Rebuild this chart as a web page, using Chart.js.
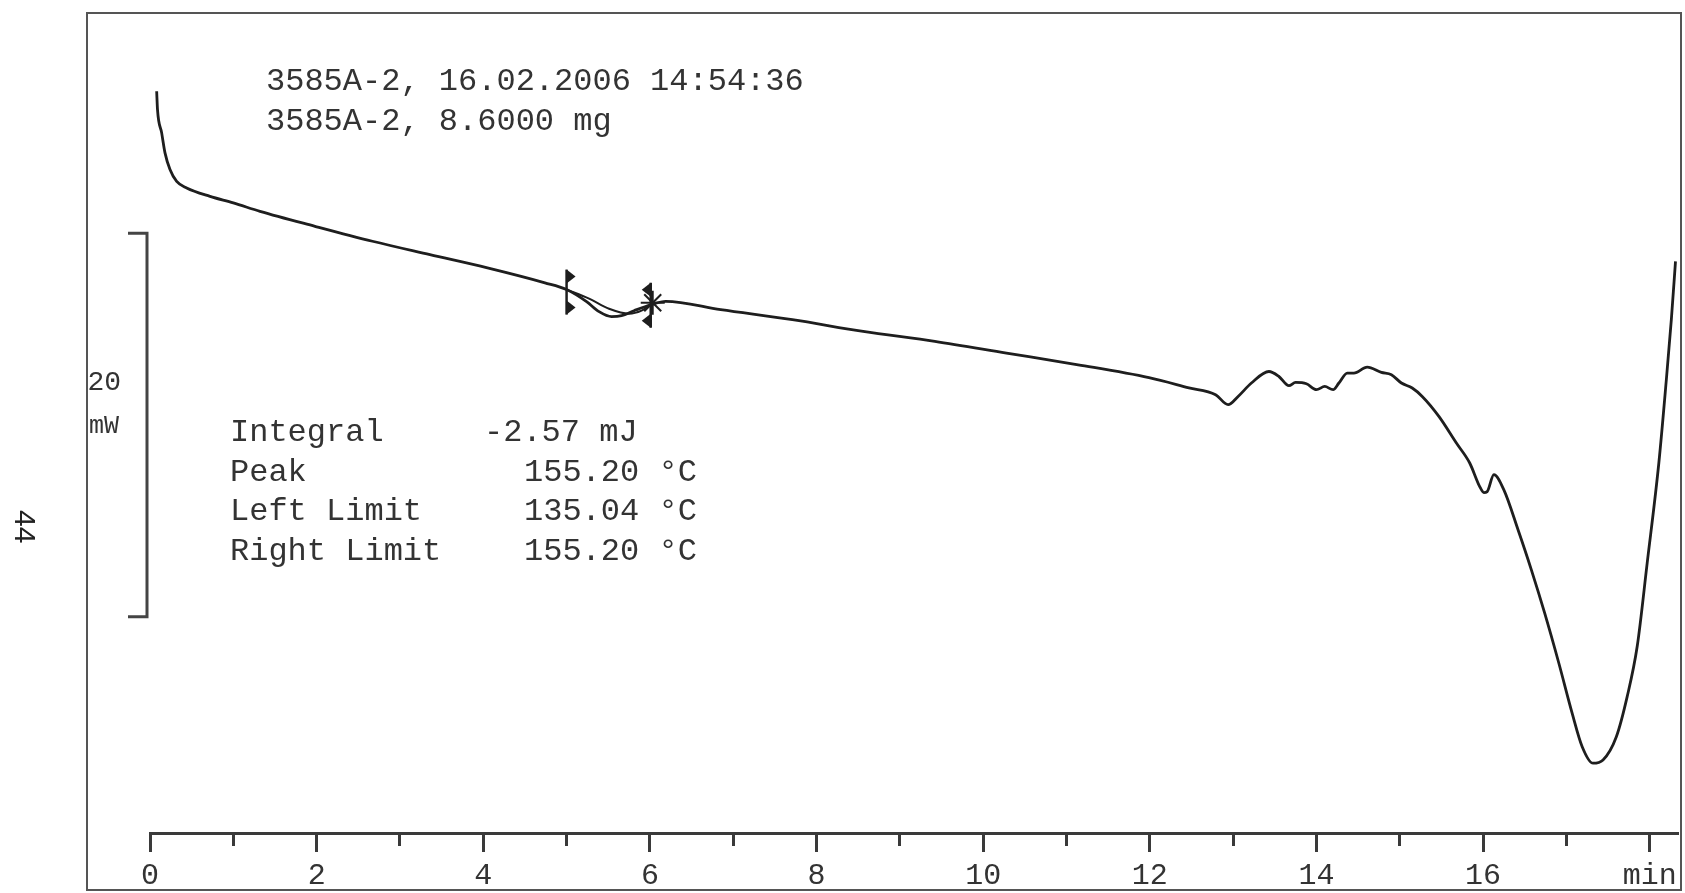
<!DOCTYPE html>
<html>
<head>
<meta charset="utf-8">
<title>DSC 3585A-2</title>
<script src="https://cdn.jsdelivr.net/npm/chart.js@4.4.1/dist/chart.umd.min.js"></script>
<style>
body { margin: 0; background: #fff; overflow: hidden; }
#wrap { position: relative; width: 1685px; height: 893px; }
#frame { position: absolute; left: 86px; top: 12px; width: 1596px; height: 879px; border: 2px solid #555; box-sizing: border-box; pointer-events: none; }
.txt { position: absolute; font-family: "Liberation Mono", "DejaVu Sans Mono", monospace; color: #333; white-space: pre; }
#head { left: 266px; top: 62px; font-size: 32px; line-height: 39.7px; }
.res { top: 413px; font-size: 32px; line-height: 39.5px; }
#unit20 { right: 1564px; top: 364px; font-size: 28px; line-height: 38px; }
#unitmw { right: 1566px; top: 411px; font-size: 25px; line-height: 32px; }
#page { left: 8px; top: 510px; font-family: "Liberation Sans", Arial, sans-serif; font-size: 30px; color: #222; transform: rotate(90deg); transform-origin: 17px 17px; }
</style>
</head>
<body>
<div id="wrap">
  <canvas id="mycanvas" width="1685" height="893"></canvas>
  <div id="frame"></div>
  <div class="txt" id="head">3585A-2, 16.02.2006 14:54:36
3585A-2, 8.6000 mg</div>
  <div class="txt res" style="left:230px">Integral
Peak
Left Limit
Right Limit</div>
  <div class="txt res" style="left:484px">-2.57 mJ</div>
  <div class="txt res" style="left:524px; top:452.5px">155.20 °C
135.04 °C
155.20 °C</div>
  <div class="txt" id="unit20">20</div>
  <div class="txt" id="unitmw">mW</div>
  <div class="txt" id="page">44</div>
</div>
<script>
// ** DSC curve, 3585A-2

// time in min, heat flow in mW (offset arbitrary)
var timeMin = [0.08, 0.09, 0.14, 0.18, 0.24, 0.32, 0.44, 0.72, 1.0, 1.32,
	1.98, 2.67, 3.36, 4.05, 4.74, 5.0, 5.24, 5.39, 5.54, 5.66,
	5.81, 6.01, 6.19, 6.85, 7.71, 8.56, 9.42, 10.28, 11.14, 11.99,
	12.47, 12.79, 12.94, 13.06, 13.22, 13.43, 13.55, 13.67, 13.75, 13.88,
	14.0, 14.1, 14.2, 14.27, 14.37, 14.45, 14.61, 14.78, 14.9, 15.02,
	15.15, 15.27, 15.47, 15.68, 15.84, 15.96, 16.01, 16.05, 16.13, 16.25,
	16.42, 16.58, 16.74, 16.91, 17.07, 17.19, 17.32, 17.44, 17.6, 17.73,
	17.85, 17.97, 18.11, 18.2, 18.26, 18.31];
var heatFlow = [38.67, 37.71, 36.5, 35.46, 34.59, 33.97, 33.63, 33.19, 32.85, 32.41,
	31.63, 30.85, 30.15, 29.46, 28.68, 28.33, 27.7, 27.18, 26.92, 26.97,
	27.23, 27.54, 27.72, 27.28, 26.76, 26.15, 25.63, 25.02, 24.41, 23.74,
	23.21, 22.85, 22.33, 22.76, 23.46, 24.06, 23.8, 23.32, 23.49, 23.42,
	23.11, 23.28, 23.11, 23.46, 23.98, 23.98, 24.29, 24.01, 23.89, 23.46,
	23.2, 22.76, 21.72, 20.33, 19.29, 18.06, 17.75, 17.8, 18.68, 17.89,
	15.81, 13.72, 11.46, 8.85, 6.24, 4.5, 3.64, 3.81, 5.02, 7.11,
	9.72, 14.07, 19.29, 23.63, 26.76, 29.8];

// integration baseline between the limits
var baseTime = [5.0, 5.27, 5.51, 5.75, 5.9, 6.01];
var baseFlow = [28.33, 27.86, 27.33, 27.07, 27.23, 27.54];

// left / right limit (135.04 / 155.20 °C)
var limitTime = [5.0, 6.01];
var limitFlow = [28.33, 27.54];

// 20 mW scale bar
var scaleBar = [11.27, 31.27];

var majorTicks = [0, 2, 4, 6, 8, 10, 12, 14, 16, 18];
var majorLabels = ['0', '2', '4', '6', '8', '10', '12', '14', '16', 'min'];

var ink = '#1e1e1e';
var axisInk = '#3a3a3a';

var limitMarks = {
	id: 'limitMarks',
	afterDatasetsDraw: function(chart) {
		var ctx = chart.ctx;
		var x = chart.scales.x, y = chart.scales.y;
		ctx.save();
		ctx.strokeStyle = ink;
		ctx.fillStyle = ink;
		ctx.lineWidth = 2.5;
		for (var i = 0; i < limitTime.length; i++) {
			var px = x.getPixelForValue(limitTime[i]);
			var py = y.getPixelForValue(limitFlow[i]);
			var d = i == 0 ? 1 : -1;
			var t1 = i == 0 ? py - 20 : py - 22;
			var b1 = i == 0 ? py + 25 : py + 23;
			ctx.beginPath();
			ctx.moveTo(px, t1);
			ctx.lineTo(px, b1);
			ctx.stroke();
			// triangles
			[[t1, t1 + 14], [b1 - 14, b1]].forEach(function(s) {
				ctx.beginPath();
				ctx.moveTo(px, s[0]);
				ctx.lineTo(px, s[1]);
				ctx.lineTo(px + d * 9, (s[0] + s[1]) / 2);
				ctx.closePath();
				ctx.fill();
			});
			if (i == 1) {
				// peak asterisk
				ctx.lineWidth = 2;
				for (var a = 0; a < 4; a++) {
					var ang = a * Math.PI / 4;
					ctx.beginPath();
					ctx.moveTo(px + 2 - 12 * Math.cos(ang), py - 2 - 12 * Math.sin(ang));
					ctx.lineTo(px + 2 + 12 * Math.cos(ang), py - 2 + 12 * Math.sin(ang));
					ctx.stroke();
				}
			}
		}
		// scale bar
		var s0 = y.getPixelForValue(scaleBar[0]);
		var s1 = y.getPixelForValue(scaleBar[1]);
		var bx = x.left - 3;
		ctx.strokeStyle = '#444';
		ctx.lineWidth = 3;
		ctx.beginPath();
		ctx.moveTo(bx - 19, s1);
		ctx.lineTo(bx, s1);
		ctx.lineTo(bx, s0);
		ctx.lineTo(bx - 19, s0);
		ctx.stroke();
		ctx.restore();
	}
};

var ctx = document.getElementById('mycanvas');

var chartdata = {
	datasets: [{
		label: 'Heat flow',
		data: timeMin.map(function(t, i) { return {x: t, y: heatFlow[i]}; }),
		borderColor: ink,
		borderWidth: 2.8,
		pointRadius: 0,
		cubicInterpolationMode: 'monotone',
		fill: false
	}, {
		label: 'Baseline',
		data: baseTime.map(function(t, i) { return {x: t, y: baseFlow[i]}; }),
		borderColor: ink,
		borderWidth: 2,
		pointRadius: 0,
		cubicInterpolationMode: 'monotone',
		fill: false
	}]
};

var dscGraph = new Chart(ctx, {
	type: 'line',
	data: chartdata,
	options: {
		responsive: false,
		animation: false,
		layout: {
			padding: {left: 150, right: 7, top: 13, bottom: 0}
		},
		plugins: {
			legend: {display: false},
			tooltip: {enabled: false}
		},
		scales: {
			x: {
				type: 'linear',
				position: 'bottom',
				min: 0,
				max: 18.34,
				afterFit: function(scale) { scale.height = 60; },
				ticks: {
					stepSize: 2,
					includeBounds: false,
					autoSkip: false,
					maxRotation: 0,
					padding: 6,
					color: '#333',
					font: {family: 'Liberation Mono', size: 30},
					callback: function(v) {
						var k = majorTicks.indexOf(v);
						return k >= 0 ? majorLabels[k] : '';
					}
				},
				grid: {
					drawOnChartArea: false,
					tickLength: 19,
					tickWidth: 3,
					tickColor: axisInk
				},
				border: {display: true, width: 3, color: axisInk}
			},
			xm: {
				type: 'linear',
				axis: 'x',
				position: {y: 0},
				min: 0,
				max: 18.34,
				ticks: {stepSize: 1, includeBounds: false, display: false},
				grid: {
					drawOnChartArea: false,
					tickLength: 13,
					tickWidth: 3,
					tickColor: axisInk
				},
				border: {display: false}
			},
			y: {
				type: 'linear',
				display: false,
				min: 0,
				max: 42.75
			}
		}
	},
	plugins: [limitMarks]
});
</script>
</body>
</html>
